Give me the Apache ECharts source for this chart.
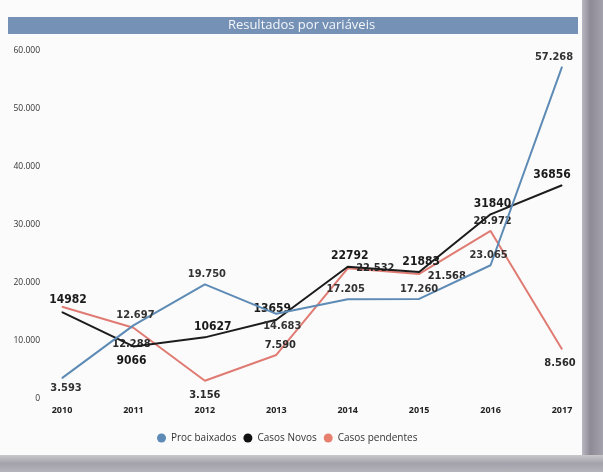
<!DOCTYPE html>
<html>
<head>
<meta charset="utf-8">
<script src="https://cdn.jsdelivr.net/npm/echarts@6/dist/echarts.min.js"></script>
<style>
html,body{margin:0;padding:0;background:#fff;}
#wrap{position:relative;width:603px;height:472px;overflow:hidden;background:#fbfbfb;}
#chart{position:absolute;left:0;top:0;width:603px;height:472px;}
#rs{position:absolute;left:582px;top:0;width:21px;height:472px;background:linear-gradient(90deg,#b9b7c0,#8e8b97 40%,#a3a1ab);}
#bs{position:absolute;left:0;top:455px;width:603px;height:17px;background:linear-gradient(180deg,#c9c8cd,#a3a1aa 50%,#b5b4bb);}
</style>
</head>
<body>
<div id="wrap"><div id="chart"></div><div id="rs"></div><div id="bs"></div></div>
<script>
var titleText = 'Resultados por variáveis';
var years = ['2010','2011','2012','2013','2014','2015','2016','2017'];
var seriesNames = ['Proc baixados','Casos Novos','Casos pendentes'];
var procBaixados = [3593, 12697, 19750, 14683, 17205, 17260, 23065, 57268];
var casosNovos = [14982, 9066, 10627, 13659, 22792, 21883, 31840, 36856];
var casosPendentes = [15900, 12288, 3156, 7590, 22532, 21568, 28972, 8560];
var yTicks = [0, 10000, 20000, 30000, 40000, 50000, 60000];

// label placement (style only)
var posBlue = [['bottom',[4,0]],['top',[2,0]],['top',[2,0]],['bottom',[6,2]],['top',[-2,0]],['top',[0,0]],['top',[-2,0]],['top',[-8,0]]];
var posBlack = [['top',[6,-2]],['bottom',[-2,4]],['top',[8,0]],['top',[-4,0]],['top',[2,0]],['top',[2,0]],['top',[2,0]],['top',[-10,0]]];
var posRed = [null,['bottom',[-2,6]],['bottom',[0,4]],['top',[4,0]],['right',[4,0]],['right',[4,2]],['top',[2,0]],['bottom',[-2,4]]];

function fmtDot(v){ return String(v).replace(/\B(?=(\d{3})+(?!\d))/g,'.'); }
function fmtPlain(v){ return String(v); }

function buildData(vals, pos, fmt, color){
  return vals.map(function(v,i){
    var p = pos[i];
    if(!p) return {value:v, label:{show:false}};
    return {value:v, label:{show:true, position:p[0], offset:p[1], formatter:fmt(v), color:color}};
  });
}

var labelFont = {show:true, fontFamily:'"DejaVu Sans Condensed","Open Sans",sans-serif', fontSize:11, fontWeight:'bold'};

var chart = echarts.init(document.getElementById('chart'), null, {renderer:'canvas'});
chart.setOption({
  backgroundColor:'#fbfbfb',
  animation:false,
  graphic:[
    {type:'rect', shape:{x:8,y:17,width:570,height:17}, style:{fill:'#7592b6'}},
    {type:'text', left:'center', top:19, style:{text:titleText, fill:'#f4f6fa', font:'13px "Open Sans", sans-serif'}, x:-8}
  ],
  grid:{left:62, right:41, top:51, bottom:73},
  legend:{
    data:seriesNames, bottom:24, left:152,
    icon:'circle', itemWidth:9, itemHeight:9, itemGap:7,
    textStyle:{fontSize:10, color:'#333', fontFamily:'"Open Sans",sans-serif'}
  },
  xAxis:{
    type:'category', data:years, boundaryGap:false,
    axisLine:{show:false}, axisTick:{show:false},
    axisLabel:{color:'#222', fontSize:9, fontWeight:'bold', margin:7, fontFamily:'"Open Sans",sans-serif'}
  },
  yAxis:{
    type:'value', min:0, max:60000, interval:10000,
    splitLine:{show:false}, axisLine:{show:false}, axisTick:{show:false},
    axisLabel:{color:'#333', fontSize:8.5, margin:22, fontFamily:'"Open Sans",sans-serif',
      formatter:function(v){ return yTicks.indexOf(v) >= 0 ? fmtDot(v) : ''; }}
  },
  series:[
    {name:seriesNames[0], type:'line', data:buildData(procBaixados,posBlue,fmtDot,'#333'),
     symbol:'circle', symbolSize:1, showSymbol:true, lineStyle:{width:2, color:'#5d8bb5'}, itemStyle:{color:'#5d8bb5'},
     label:Object.assign({distance:4}, labelFont), z:3},
    {name:seriesNames[1], type:'line', data:buildData(casosNovos,posBlack,fmtPlain,'#1a1a1a'),
     symbol:'circle', symbolSize:1, showSymbol:true, lineStyle:{width:2, color:'#1c1c1c'}, itemStyle:{color:'#111'},
     label:Object.assign({distance:4}, labelFont, {fontSize:12}), z:2},
    {name:seriesNames[2], type:'line', data:buildData(casosPendentes,posRed,fmtDot,'#2a2a2a'),
     symbol:'circle', symbolSize:1, showSymbol:true, lineStyle:{width:2, color:'#e07b73'}, itemStyle:{color:'#e8806f'},
     label:Object.assign({distance:4}, labelFont), z:1}
  ]
});
</script>
</body>
</html>
